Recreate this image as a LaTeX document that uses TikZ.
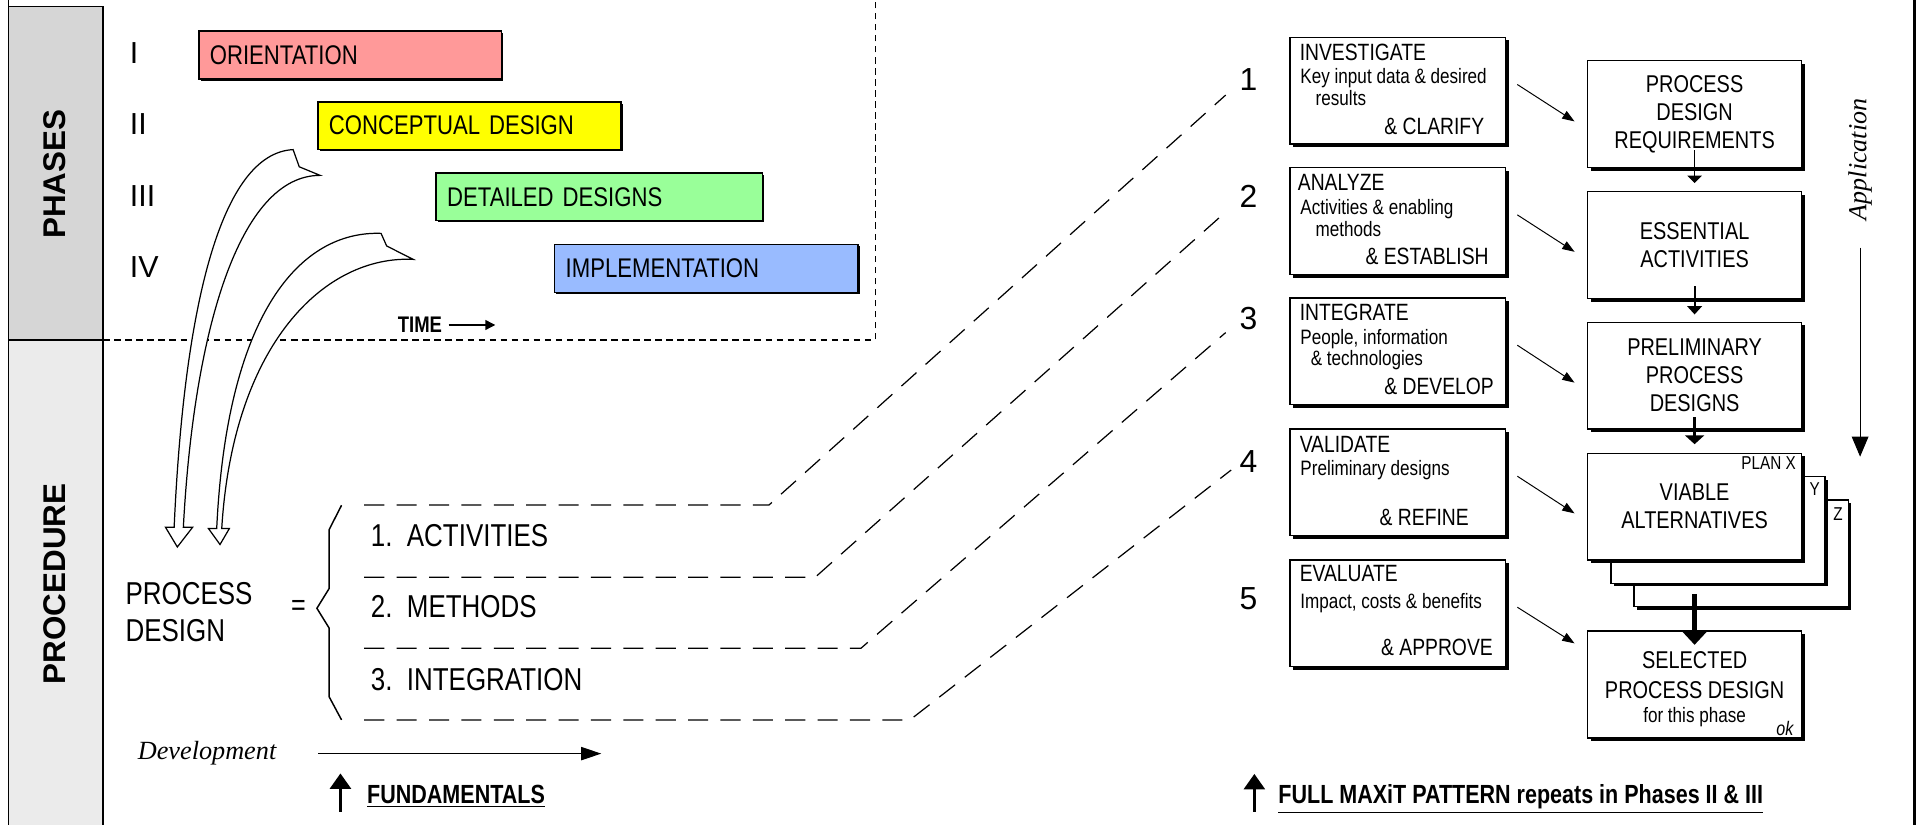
\documentclass[tikz,border=0pt]{standalone}
\usepackage{fontspec}
\setmainfont[FakeStretch=0.82]{Liberation Sans}
\newfontfamily\widesans{Liberation Sans}
\newfontfamily\bookserif{Liberation Serif}
\usetikzlibrary{arrows.meta,shadows,positioning}
\definecolor{orientfill}{HTML}{FF9999}
\definecolor{conceptfill}{HTML}{FFFF00}
\definecolor{detailfill}{HTML}{99FF99}
\definecolor{implfill}{HTML}{99BBFF}
\newcommand{\sz}[2]{\fontsize{#1}{#2}\selectfont}
\begin{document}
\begin{tikzpicture}[x=0.5pt,y=-0.5pt,every node/.style={inner sep=0pt},
		phasebar/.style={draw,line width=0.6pt,anchor=west,minimum height=19.5pt,align=left,
			inner xsep=4.5pt,font=\sz{11}{12},
			drop shadow={shadow xshift=0.7pt,shadow yshift=-0.7pt,opacity=1,fill=black}},
		numeral/.style={anchor=west,font=\widesans\sz{12.4}{14}},
		sidelabel/.style={rotate=90,font=\widesans\bfseries\sz{12.8}{14}},
		hollow/.style={draw,fill=white,line width=0.5pt},
		item/.style={anchor=west,font=\sz{12.9}{15}},
		link/.style={dash pattern=on 8.2pt off 5pt,line width=0.5pt},
		stepno/.style={font=\widesans\sz{13}{15}},
		stepbox/.style={draw,fill=white,line width=0.6pt,minimum width=87.8pt,minimum height=43.5pt,
			drop shadow={shadow xshift=1.3pt,shadow yshift=-1.3pt,opacity=1,fill=black}},
		outbox/.style={stepbox,minimum width=87.3pt,align=center,font=\sz{9.9}{11.4}},
		stepverb/.style={anchor=west,font=\sz{9.6}{11}},
		stepnote/.style={anchor=west,font=\sz{8.5}{10}},
		feed/.style={line width=0.4pt,-{Triangle[length=5pt,width=3.6pt]}},
		underlined/.style={anchor=base west,font=\bfseries\sz{10.7}{12}},
		uparrow/.style={line width=1.5pt,-{Triangle[length=6.3pt,width=8.4pt]}}]
	\useasboundingbox (0,0) rectangle (1568,673);
	\fill[black!16] (7,5.4) rectangle (84.2,277.2);
	\fill[black!8] (7,277.2) rectangle (84.2,673);
	\draw[line width=0.7pt] (7,0) -- (7,673) (7,5.4) -- (84.2,5.4) -- (84.2,673) (7,277.2) -- (84.2,277.2);
	\draw[line width=1pt] (1561,0) -- (1561,673);
	\node[sidelabel] (phases) at (44.5,142) {PHASES};
	\node[sidelabel] (procedure) at (44.5,476) {PROCEDURE};
	\draw[dash pattern=on 2.7pt off 1.8pt,line width=0.5pt] (84.2,277.2) -- (713.8,277.2) -- (713.8,0);

	\node[numeral] (ph1) at (105.5,43.5) {I};
	\node[numeral] (ph2) at (105.5,101.2) {II};
	\node[numeral] (ph3) at (105.5,159.7) {III};
	\node[numeral] (ph4) at (105.5,218) {IV};
	\node[phasebar,fill=orientfill,text width=114.5pt] (orient) at (161.5,44.9) {ORIENTATION};
	\node[phasebar,fill=conceptfill,text width=114.5pt] (concept) at (258.6,102.5) {CONCEPTUAL DESIGN};
	\node[phasebar,fill=detailfill,text width=124pt] (detail) at (355,160.5) {DETAILED DESIGNS};
	\node[phasebar,fill=implfill,text width=114.6pt] (impl) at (451.7,219) {IMPLEMENTATION};
	\node[anchor=west,font=\bfseries\sz{9.2}{11}] (time) at (324,265) {TIME};
	\draw[line width=0.5pt,-{Triangle[length=4pt,width=4pt]}] ([xshift=2.5pt]time.east) -- ([xshift=21.5pt]time.east);

	\draw[hollow] (239,122) -- (244,136) -- (261,143) .. controls (195,143) and (158,270) .. (149.5,430)
		-- (157,430) -- (144.6,446) -- (135,430) -- (142,430) .. controls (150,250) and (180,125) .. (239,122) -- cycle;
	\draw[hollow] (310.7,190.3) -- (315.3,200.6) -- (337,211.5) .. controls (265,208) and (190,280) .. (180.8,431)
		-- (187,431) -- (179.4,444) -- (170,431) -- (176.7,431) .. controls (185,255) and (245,188) .. (310.7,190.3) -- cycle;

	\node[item,align=left] (pd) at (102,499) {PROCESS\\DESIGN};
	\node[font=\sz{12.5}{15}] (eq) at (243.4,496) {=};
	\draw[line width=0.6pt] (278.5,412) -- (268.3,432) -- (268.3,480) -- (258.4,496) -- (268.3,512) -- (268.3,568) -- (278.5,587);
	\node[item] (act) at (302,437) {1.\ \ ACTIVITIES};
	\node[item] (met) at (302,495) {2.\ \ METHODS};
	\node[item] (integ) at (302,554) {3.\ \ INTEGRATION};
	\node[anchor=west,font=\bookserif\itshape\sz{10.7}{12}] (dev) at (112,614.5) {Development};
	\draw[line width=0.5pt,-{Triangle[length=8.2pt,width=5.4pt]}] ([xshift=17pt]dev.east) -- ([xshift=132.3pt]dev.east);
	\node[underlined] (fund) at (299,655) {\underline{FUNDAMENTALS}};
	\draw[uparrow] ([shift={(-10.7pt,-3.5pt)}]fund.base west) -- ([shift={(-10.7pt,12.2pt)}]fund.base west);

	\node[stepno] (n1) at (1018,65.2) {1};
	\node[stepno] (n2) at (1018,160.4) {2};
	\node[stepno] (n3) at (1018,259.6) {3};
	\node[stepno] (n4) at (1018,376.5) {4};
	\node[stepno] (n5) at (1018,488) {5};
	\draw[link] (297,411.8) -- (627,411.8) -- ([shift={(-11,3)}]n1.south west);
	\draw[link] (297,470.7) -- (664.7,470.7) -- ([shift={(-11,3)}]n2.south west);
	\draw[link] (297,528.6) -- (702,528.6) -- ([shift={(-11,2)}]n3.south west);
	\draw[link] (297,587) -- (742,587) -- ([shift={(-6.5,-2.6)}]n4.south west);

	\node[stepbox] (inv) at (1139.8,73.9) {};
	\node[stepbox] (ana) at (1139.8,180.2) {};
	\node[stepbox] (intg) at (1139.8,286.5) {};
	\node[stepbox] (val) at (1139.8,393.3) {};
	\node[stepbox] (eva) at (1139.8,500.1) {};
	\node[stepverb] (invv) at ([shift={(8,12.6)}]inv.north west) {INVESTIGATE};
	\node[stepnote] (invn) at ([shift={(8.6,33.5)}]inv.north west) {Key input data \& desired};
	\node[stepnote] (invm) at ([shift={(21,50.3)}]inv.north west) {results};
	\node[stepverb] (invc) at ([shift={(77,73)}]inv.north west) {\& CLARIFY};
	\node[stepverb] (anav) at ([shift={(6.5,12.6)}]ana.north west) {ANALYZE};
	\node[stepnote] (anan) at ([shift={(8.6,34.5)}]ana.north west) {Activities \& enabling};
	\node[stepnote] (anam) at ([shift={(21,50.8)}]ana.north west) {methods};
	\node[stepverb] (anac) at ([shift={(61.7,73.1)}]ana.north west) {\& ESTABLISH};
	\node[stepverb] (intv) at ([shift={(8,12.5)}]intg.north west) {INTEGRATE};
	\node[stepnote] (intn) at ([shift={(8.6,34.2)}]intg.north west) {People, information};
	\node[stepnote] (intm) at ([shift={(17,51)}]intg.north west) {\& technologies};
	\node[stepverb] (intc) at ([shift={(77,72.3)}]intg.north west) {\& DEVELOP};
	\node[stepverb] (valv) at ([shift={(8,13)}]val.north west) {VALIDATE};
	\node[stepnote] (valn) at ([shift={(8.6,34)}]val.north west) {Preliminary designs};
	\node[stepverb] (valc) at ([shift={(73.2,72.8)}]val.north west) {\& REFINE};
	\node[stepverb] (evav) at ([shift={(8,11.7)}]eva.north west) {EVALUATE};
	\node[stepnote] (evan) at ([shift={(8.6,35.4)}]eva.north west) {Impact, costs \& benefits};
	\node[stepverb] (evac) at ([shift={(74.4,72)}]eva.north west) {\& APPROVE};

	\node[outbox] (pdr) at (1381.75,93) {PROCESS\\DESIGN\\REQUIREMENTS};
	\node[outbox] (ess) at (1381.75,199.8) {ESSENTIAL\\ACTIVITIES};
	\node[outbox] (pre) at (1381.75,306.3) {PRELIMINARY\\PROCESS\\DESIGNS};
	\node[outbox] (planz) at (1419.75,451.1) {};
	\node[outbox] (plany) at (1400.75,432.1) {};
	\node[outbox] (via) at (1381.75,413.1) {VIABLE\\ALTERNATIVES};
	\node[outbox] (sel) at (1381.75,558.1) {};
	\node[align=center,font=\sz{9.9}{12}] (seltext) at ([yshift=-2pt]sel.center) {SELECTED\\PROCESS DESIGN\\[-2pt]\sz{8.5}{10}for this phase};
	\node[font=\sz{7.6}{9}] (px) at ([shift={(-27.6,8.2)}]via.north east) {PLAN X};
	\node[font=\sz{7.6}{9}] (py) at ([shift={(-9,10.9)}]plany.north east) {Y};
	\node[font=\sz{7.6}{9}] (pz) at ([shift={(-9,12.4)}]planz.north east) {Z};
	\node[font=\itshape\sz{8}{9}] (ok) at ([shift={(-14.3,-8.1)}]sel.south east) {ok};

	\draw[feed] ([shift={(9,-5)}]inv.east) -- ([shift={(-10,6)}]pdr.west);
	\draw[feed] ([shift={(9,-5)}]ana.east) -- ([shift={(-10,5.5)}]ess.west);
	\draw[feed] ([shift={(9,-5)}]intg.east) -- ([shift={(-10,5.7)}]pre.west);
	\draw[feed] ([shift={(9,-5)}]val.east) -- ([shift={(-10,5.5)}]via.west);
	\draw[feed] ([shift={(9,-5)}]eva.east) -- ([shift={(-10,-33.5)}]sel.west);
	\draw[line width=0.4pt,-{Triangle[length=3pt,width=5.8pt]}] ([yshift=7.2pt]pdr.south) -- ([yshift=3.2pt]ess.north);
	\draw[line width=0.75pt,-{Triangle[length=3.4pt,width=6pt]}] ([yshift=5.2pt]ess.south) -- ([yshift=2.9pt]pre.north);
	\draw[line width=1.1pt,-{Triangle[length=3.6pt,width=7.7pt]}] ([yshift=5pt]pre.south) -- ([yshift=3.4pt]via.north);
	\draw[line width=2.3pt,-{Triangle[length=5.4pt,width=9.7pt]}] ([yshift=-13.5pt]via.south) -- ([yshift=-5.9pt]sel.north);

	\node[rotate=90,font=\bookserif\itshape\sz{10.6}{12}] (app) at (1516.7,130) {Application};
	\coordinate (append) at (1516.7,372.4);
	\draw[line width=0.4pt,-{Triangle[length=8.2pt,width=6.8pt]}] ([yshift=-11pt]app.west) -- (append);

	\node[underlined] (maxit) at (1042,655) {\underline{FULL MAXiT PATTERN repeats in Phases II \& III}};
	\draw[uparrow] ([shift={(-9.6pt,-3.5pt)}]maxit.base west) -- ([shift={(-9.6pt,12pt)}]maxit.base west);
\end{tikzpicture}
\end{document}
